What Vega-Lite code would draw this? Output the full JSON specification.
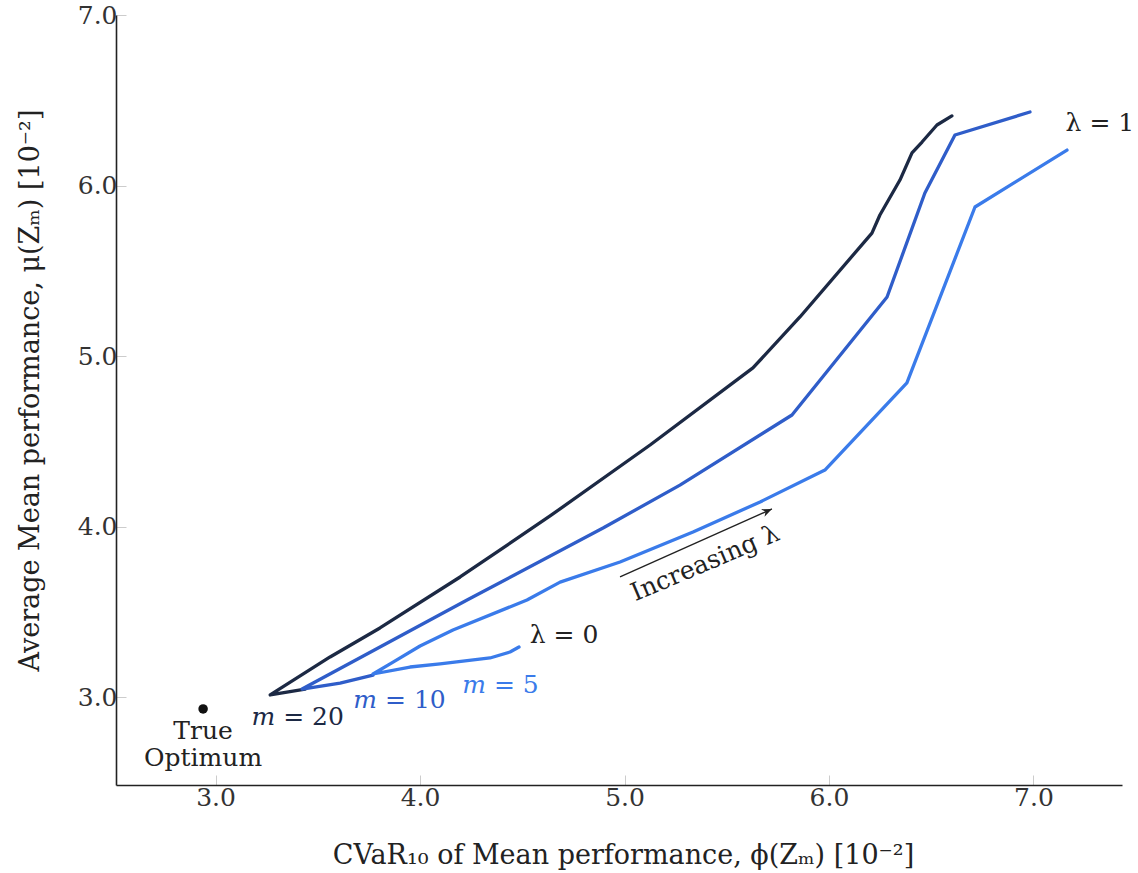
{
  "$schema": "https://vega.github.io/schema/vega-lite/v6.json",
  "width": 1006,
  "height": 770,
  "autosize": {"type": "none"},
  "padding": {"left": 116, "top": 15, "right": 16, "bottom": 88},
  "background": "white",
  "config": {
    "view": {"stroke": null},
    "font": "DejaVu Serif",
    "axis": {
      "domainColor": "#222222",
      "domainWidth": 1.6,
      "tickColor": "#cccccc",
      "tickSize": -10,
      "tickWidth": 1,
      "grid": false,
      "labelFont": "DejaVu Serif",
      "labelFontSize": 25,
      "labelColor": "#333333",
      "titleFont": "DejaVu Serif",
      "titleFontSize": 27,
      "titleFontWeight": "normal",
      "titleColor": "#222222"
    }
  },
  "datasets": {
    "lines": [
      {"series": "m20", "order": 1, "x": 3.438, "y": 3.047},
      {"series": "m20", "order": 2, "x": 3.267, "y": 3.012},
      {"series": "m20", "order": 3, "x": 3.560, "y": 3.235},
      {"series": "m20", "order": 4, "x": 3.804, "y": 3.405},
      {"series": "m20", "order": 5, "x": 4.196, "y": 3.704},
      {"series": "m20", "order": 6, "x": 4.636, "y": 4.062},
      {"series": "m20", "order": 7, "x": 5.125, "y": 4.478},
      {"series": "m20", "order": 8, "x": 5.628, "y": 4.930},
      {"series": "m20", "order": 9, "x": 5.858, "y": 5.229},
      {"series": "m20", "order": 10, "x": 6.210, "y": 5.721},
      {"series": "m20", "order": 11, "x": 6.249, "y": 5.827},
      {"series": "m20", "order": 12, "x": 6.347, "y": 6.032},
      {"series": "m20", "order": 13, "x": 6.406, "y": 6.191},
      {"series": "m20", "order": 14, "x": 6.455, "y": 6.255},
      {"series": "m20", "order": 15, "x": 6.528, "y": 6.355},
      {"series": "m20", "order": 16, "x": 6.601, "y": 6.408},
      {"series": "m10", "order": 1, "x": 3.770, "y": 3.129},
      {"series": "m10", "order": 2, "x": 3.609, "y": 3.082},
      {"series": "m10", "order": 3, "x": 3.423, "y": 3.047},
      {"series": "m10", "order": 4, "x": 3.804, "y": 3.293},
      {"series": "m10", "order": 5, "x": 4.230, "y": 3.569},
      {"series": "m10", "order": 6, "x": 4.895, "y": 3.991},
      {"series": "m10", "order": 7, "x": 5.271, "y": 4.243},
      {"series": "m10", "order": 8, "x": 5.819, "y": 4.654},
      {"series": "m10", "order": 9, "x": 6.284, "y": 5.346},
      {"series": "m10", "order": 10, "x": 6.469, "y": 5.956},
      {"series": "m10", "order": 11, "x": 6.616, "y": 6.296},
      {"series": "m10", "order": 12, "x": 6.983, "y": 6.431},
      {"series": "m5", "order": 1, "x": 4.484, "y": 3.293},
      {"series": "m5", "order": 2, "x": 4.440, "y": 3.264},
      {"series": "m5", "order": 3, "x": 4.342, "y": 3.229},
      {"series": "m5", "order": 4, "x": 4.098, "y": 3.194},
      {"series": "m5", "order": 5, "x": 3.951, "y": 3.176},
      {"series": "m5", "order": 6, "x": 3.770, "y": 3.135},
      {"series": "m5", "order": 7, "x": 3.868, "y": 3.205},
      {"series": "m5", "order": 8, "x": 4.000, "y": 3.299},
      {"series": "m5", "order": 9, "x": 4.161, "y": 3.393},
      {"series": "m5", "order": 10, "x": 4.523, "y": 3.569},
      {"series": "m5", "order": 11, "x": 4.685, "y": 3.674},
      {"series": "m5", "order": 12, "x": 4.978, "y": 3.792},
      {"series": "m5", "order": 13, "x": 5.335, "y": 3.968},
      {"series": "m5", "order": 14, "x": 5.663, "y": 4.144},
      {"series": "m5", "order": 15, "x": 5.980, "y": 4.331},
      {"series": "m5", "order": 16, "x": 6.381, "y": 4.842},
      {"series": "m5", "order": 17, "x": 6.714, "y": 5.874},
      {"series": "m5", "order": 18, "x": 7.164, "y": 6.208}
    ],
    "mlabels": [
      {"series": "m20", "italic": "m", "rest": "= 20", "x": 3.311, "y": 2.883},
      {"series": "m10", "italic": "m", "rest": "= 10", "x": 3.809, "y": 2.982},
      {"series": "m5", "italic": "m", "rest": "= 5", "x": 4.342, "y": 3.070}
    ],
    "notes": [
      {"text": "λ = 1", "x": 7.325, "y": 6.367},
      {"text": "λ = 0", "x": 4.704, "y": 3.364},
      {"text": "True", "x": 2.939, "y": 2.801},
      {"text": "Optimum", "x": 2.939, "y": 2.640}
    ],
    "optimum": [{"x": 2.939, "y": 2.930}],
    "arrow": [{"x": 4.978, "y": 3.704, "x2": 5.721, "y2": 4.103}],
    "rotated": [{"text": "Increasing λ", "x": 5.394, "y": 3.786}]
  },
  "layer": [
    {
      "data": {"name": "lines"},
      "mark": {"type": "line", "strokeWidth": 3.3, "strokeJoin": "round", "strokeCap": "round"},
      "encoding": {
        "x": {
          "field": "x", "type": "quantitative",
          "scale": {"domain": [2.513, 7.433], "nice": false, "zero": false},
          "axis": {
            "values": [3, 4, 5, 6, 7], "format": ".1f",
            "labelPadding": 10,
            "title": "CVaR₁₀ of Mean performance, ϕ(Zₘ)  [10⁻²]",
            "titleX": 507, "titleY": 70, "titleBaseline": "middle", "titleAlign": "center"
          }
        },
        "y": {
          "field": "y", "type": "quantitative",
          "scale": {"domain": [2.484, 7.0], "nice": false, "zero": false},
          "axis": {
            "values": [3, 4, 5, 6, 7], "format": ".1f",
            "labelPadding": 9,
            "title": "Average Mean performance, μ(Zₘ)  [10⁻²]",
            "titleX": -86, "titleY": 375, "titleAngle": -90, "titleBaseline": "middle", "titleAlign": "center"
          }
        },
        "color": {
          "field": "series", "type": "nominal",
          "scale": {"domain": ["m20", "m10", "m5"], "range": ["#1c2944", "#2f5dc9", "#3a7bea"]},
          "legend": null
        },
        "order": {"field": "order", "type": "quantitative"}
      }
    },
    {
      "data": {"name": "optimum"},
      "mark": {"type": "point", "filled": true, "color": "#111111", "size": 90, "opacity": 1},
      "encoding": {
        "x": {"field": "x", "type": "quantitative"},
        "y": {"field": "y", "type": "quantitative"}
      }
    },
    {
      "data": {"name": "notes"},
      "mark": {"type": "text", "fontSize": 25, "color": "#222222", "align": "center", "baseline": "middle"},
      "encoding": {
        "x": {"field": "x", "type": "quantitative"},
        "y": {"field": "y", "type": "quantitative"},
        "text": {"field": "text"}
      }
    },
    {
      "data": {"name": "mlabels"},
      "mark": {"type": "text", "fontSize": 25, "fontStyle": "italic", "align": "right", "baseline": "middle", "dx": -4},
      "encoding": {
        "x": {"field": "x", "type": "quantitative"},
        "y": {"field": "y", "type": "quantitative"},
        "text": {"field": "italic"},
        "color": {"field": "series", "type": "nominal", "legend": null}
      }
    },
    {
      "data": {"name": "mlabels"},
      "mark": {"type": "text", "fontSize": 25, "align": "left", "baseline": "middle", "dx": 4},
      "encoding": {
        "x": {"field": "x", "type": "quantitative"},
        "y": {"field": "y", "type": "quantitative"},
        "text": {"field": "rest"},
        "color": {"field": "series", "type": "nominal", "legend": null}
      }
    },
    {
      "data": {"name": "arrow"},
      "mark": {"type": "rule", "color": "#222222", "strokeWidth": 1.4},
      "encoding": {
        "x": {"field": "x", "type": "quantitative"},
        "y": {"field": "y", "type": "quantitative"},
        "x2": {"field": "x2"},
        "y2": {"field": "y2"}
      }
    },
    {
      "data": {"name": "arrow"},
      "mark": {"type": "point", "filled": true, "color": "#222222", "opacity": 1, "size": 400, "angle": 336, "shape": "M 0 0 L -1 -0.42 L -0.7 0 L -1 0.42 Z"},
      "encoding": {
        "x": {"field": "x2", "type": "quantitative"},
        "y": {"field": "y2", "type": "quantitative"}
      }
    },
    {
      "data": {"name": "rotated"},
      "mark": {"type": "text", "fontSize": 25, "color": "#222222", "align": "center", "baseline": "middle", "angle": 337},
      "encoding": {
        "x": {"field": "x", "type": "quantitative"},
        "y": {"field": "y", "type": "quantitative"},
        "text": {"field": "text"}
      }
    }
  ]
}
